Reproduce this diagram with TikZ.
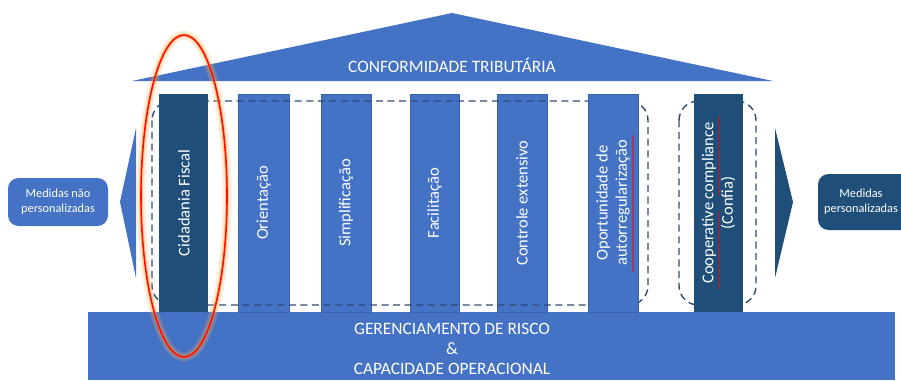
\documentclass[tikz,border=0pt]{standalone}
\usepackage{fontspec}
\setmainfont{Carlito}
\usepackage{xcolor}
\usetikzlibrary{decorations.pathmorphing}
\definecolor{midblue}{HTML}{4472C4}
\definecolor{darkblue}{HTML}{1F4E79}
\definecolor{dashblue}{HTML}{2F4A73}

\begin{document}
\begin{tikzpicture}[x=0.02cm,y=-0.02cm,
  pillar/.style={fill=midblue,draw=midblue!85!black,line width=0.3pt},
  darkpillar/.style={fill=darkblue},
  collabel/.style={text=white,font=\fontsize{9.4}{11}\selectfont,align=center,rotate=90},
  bigtext/.style={text=white,font=\fontsize{9.9}{11.5}\selectfont,align=center},
  sidetext/.style={text=white,font=\fontsize{7}{8.4}\selectfont,align=center},
  frame/.style={dashblue,line width=0.8pt,dash pattern=on 4pt off 2.6pt,rounded corners=11pt},
  spell/.style={red,line width=0.3pt,decorate,decoration={snake,amplitude=0.4pt,segment length=2pt}}]
  \clip (0,0) rectangle (901,380);

  % roof and base
  \path[fill=midblue] (132,81) -- (452,13) -- (773,81) -- cycle;
  \node[bigtext] (roof) at (452,65) {CONFORMIDADE TRIBUTÁRIA};
  \path[fill=midblue] (88,312) rectangle (895,380);
  \node[bigtext] (base) at (452,349) {GERENCIAMENTO DE RISCO\\[0pt] \&\\[0pt] CAPACIDADE OPERACIONAL};

  % side arrows
  \path[fill=midblue] (136,128) -- (120,202) -- (136,278) -- cycle;
  \path[fill=darkblue] (775,128) -- (793,202) -- (775,278) -- cycle;
  \path[fill=midblue,rounded corners=6pt] (8,178) rectangle (108,226);
  \node[sidetext] (naopers) at (58,202) {Medidas não\\personalizadas};
  \path[fill=darkblue,rounded corners=6pt] (818,174) rectangle (916,230);
  \node[sidetext,inner sep=0pt] (pers) at (861,202) {Medidas\\personalizadas};

  % inner pillars
  \draw[pillar] (238,94) rectangle (289,312);
  \draw[pillar] (321,94) rectangle (371,312);
  \draw[pillar] (410,94) rectangle (459,312);
  \draw[pillar] (497,94) rectangle (547,312);

  % dashed groups
  \draw[frame] (152,101) rectangle (648,305);
  \draw[frame] (679,101) rectangle (756,305);

  \path[darkpillar] (159,94) rectangle (208,312);
  \draw[pillar] (588,94) rectangle (638,312);
  \path[darkpillar] (694,94) rectangle (743,312);

  \node[collabel] (cidadania) at (184,203) {Cidadania Fiscal};
  \node[collabel] (orient) at (263.5,203) {Orientação};
  \node[collabel] (simpl) at (346,203) {Simplificação};
  \node[collabel] (facil) at (434.5,203) {Facilitação};
  \node[collabel] (controle) at (522,203) {Controle extensivo};
  \node[collabel] (oport) at (613,203) {Oportunidade de\\autorregularização};
  \node[collabel] (coop) at (718.5,203) {Cooperative compliance\\(Confia)};

  \draw[spell] (633,272) -- (633,135);
  \draw[spell] (719,289) -- (719,211);
  \draw[spell] (719,196) -- (719,115);

  % highlight
  \draw[orange!60,line width=5pt,opacity=0.25] (184,196) ellipse (43 and 161);
  \draw[orange!80,line width=2.2pt,opacity=0.4] (184,196) ellipse (43 and 161);
  \draw[red!90!orange,line width=0.9pt] (184,196) ellipse (43 and 161);
\end{tikzpicture}
\end{document}
